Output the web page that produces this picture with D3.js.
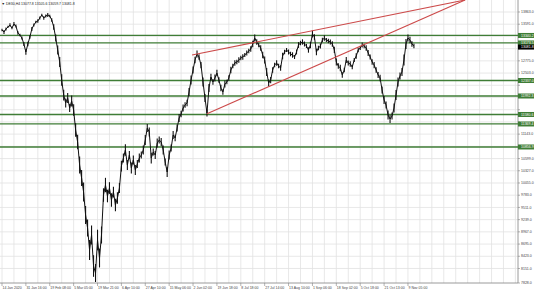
<!DOCTYPE html>
<html>
<head>
<meta charset="utf-8">
<script src="https://d3js.org/d3.v7.min.js"></script>
<style>
  html, body { margin: 0; padding: 0; background: #fff; }
  svg { display: block; }
  text { font-family: "Liberation Sans", Arial, sans-serif; }
</style>
</head>
<body>
<script>
// chart values (DE30, H4)
const closes = [
  13462, 13417, 13484, 13529, 13573, 13506, 13596, 13551, 13395, 13351,
  13284, 13150, 12972, 13150, 13306, 13484, 13573, 13640, 13662, 13729,
  13796, 13729, 13774, 13796, 13774, 13685, 13529, 13284, 13017, 12749,
  12348, 12014, 11836, 11948, 11725, 11881, 11680, 11235, 10968, 10455,
  10166, 9854, 9342, 9052, 8563, 8897, 8206, 8050, 8785, 8384,
  8897, 9787, 10010, 9765, 9943, 9676, 9854, 9565, 9720, 9943,
  10433, 10611, 10790, 10455, 10678, 10389, 10567, 10344, 10478, 10611,
  10678, 10790, 11012, 11279, 11190, 10611, 10745, 10678, 10945, 11012,
  10968, 10790, 10522, 10300, 10678, 10834, 11124, 11057, 11279, 11502,
  11591, 11725, 11792, 11836, 12081, 12348, 12571, 12794, 12927, 12861,
  12682, 12304, 11948, 11613, 12170, 12415, 12304, 12393, 12504, 12348,
  12170, 12081, 12259, 12304, 12393, 12571, 12660, 12727, 12749, 12794,
  12838, 12861, 12905, 12950, 12994, 13039, 13150, 13284, 13195, 13128,
  13061, 12905, 12794, 12527, 12282, 12348, 12571, 12682, 12727, 12660,
  12616, 12883, 12972, 13017, 12972, 12927, 12905, 12861, 12972, 13128,
  13172, 13195, 13150, 13106, 13017, 13128, 13373, 13306, 12972, 13061,
  13106, 13239, 13284, 13239, 13217, 13195, 13150, 13017, 12749, 12660,
  12616, 12460, 12571, 12794, 12727, 12705, 12638, 12794, 12883, 13017,
  13061, 13128, 13106, 13061, 12950, 12861, 12749, 12682, 12571, 12460,
  12393, 12126, 11903, 11792, 11569, 11480, 11547, 11725, 12014, 12304,
  12438, 12527, 12794, 13150, 13284, 13239, 13150, 13106
];

// high-low span of each bar, in points
const spans = [
  60, 90, 70, 50, 80, 60, 90, 70, 80, 60,
  70, 90, 120, 100, 80, 90, 70, 60, 80, 70,
  60, 80, 70, 90, 60, 80, 120, 160, 200, 220,
  260, 240, 200, 220, 180, 240, 260, 300, 320, 380,
  360, 420, 400, 380, 450, 420, 480, 400, 460, 420,
  380, 300, 320, 280, 260, 300, 240, 280, 260, 220,
  240, 200, 260, 220, 180, 240, 200, 220, 180, 200,
  160, 200, 220, 180, 200, 240, 160, 180, 200, 160,
  180, 200, 160, 220, 200, 160, 180, 140, 160, 180,
  140, 160, 120, 140, 180, 200, 160, 140, 160, 120,
  140, 200, 180, 160, 180, 140, 120, 160, 140, 120,
  140, 120, 160, 100, 120, 140, 100, 120, 100, 120,
  100, 120, 90, 110, 100, 120, 140, 160, 120, 100,
  120, 140, 160, 180, 160, 140, 120, 100, 120, 100,
  120, 140, 100, 90, 110, 100, 120, 90, 110, 130,
  100, 120, 110, 90, 120, 140, 160, 120, 140, 100,
  110, 100, 120, 90, 100, 110, 120, 140, 160, 120,
  140, 120, 100, 130, 110, 120, 100, 90, 120, 100,
  90, 110, 100, 120, 130, 110, 120, 140, 120, 130,
  140, 160, 180, 160, 200, 180, 160, 200, 220, 200,
  160, 180, 240, 220, 160, 140, 120, 100
];

const timeLabels = [
  '14 Jan 2020', '31 Jan 16:00', '19 Feb 08:00', '5 Mar 05:00', '19 Mar 21:00',
  '6 Apr 10:00', '27 Apr 10:00', '15 May 06:00', '2 Jun 02:00', '19 Jun 18:00',
  '8 Jul 18:00', '27 Jul 14:00', '13 Aug 10:00', '1 Sep 06:00', '18 Sep 02:00',
  '5 Oct 18:00', '21 Oct 13:00', '9 Nov 05:00'
];
const labelEvery = 12;   // bars between time labels

const priceTicks = [
  13863.0, 13591.0, 13319.0, 13047.0, 12775.0, 12503.0, 12231.0, 11959.0,
  11687.0, 11415.0, 11143.0, 10871.0, 10599.0, 10327.0, 10055.0, 9783.0,
  9511.0, 9239.0, 8967.0, 8695.0, 8423.0, 8151.0, 7828.0
];

const levels = [13340.2, 13173.5, 12337.0, 11992.3, 11580.6, 11369.4, 10856.9];
const lastPrice = 13081.8;
const header = ['DE30,H4', '13077.8', '13105.6', '13059.7', '13081.8'];

// wedge trendlines: [bar, price] pairs
const trendUpper = [[95.5, 12905], [232.7, 14130]];
const trendLower = [[103, 11595], [232.7, 14130]];

// sizes
const W = 536, H = 293;
const plotRight = 518, plotBottom = 283;

const svg = d3.select('body')
  .append('svg')
  .attr('width', W)
  .attr('height', H);

const x = d3.scaleLinear()
  .domain([0, 100])
  .range([2, 201]);

const y = d3.scaleLinear()
  .domain([7828, 14130])
  .range([plotBottom, 0]);

const maxBar = Math.floor(x.invert(plotRight));

// grid
const grid = svg.append('g');
grid.selectAll('line.v')
  .data(d3.range(0, maxBar + 1, 6))
  .join('line')
  .attr('class', 'v')
  .attr('x1', d => x(d)).attr('x2', d => x(d))
  .attr('y1', 0).attr('y2', plotBottom)
  .attr('stroke', '#e2e2e2')
  .attr('stroke-width', 0.8);

grid.selectAll('line.h')
  .data(priceTicks.slice(0, -1))
  .join('line')
  .attr('class', 'h')
  .attr('x1', 0).attr('x2', plotRight)
  .attr('y1', d => y(d)).attr('y2', d => y(d))
  .attr('stroke', '#e2e2e2')
  .attr('stroke-width', 0.8);

// border
svg.append('path')
  .attr('d', `M${plotRight},0V${plotBottom}H0`)
  .attr('fill', 'none')
  .attr('stroke', '#808080')
  .attr('stroke-width', 0.8);

// support / resistance levels
svg.selectAll('line.level')
  .data(levels)
  .join('line')
  .attr('class', 'level')
  .attr('x1', 0).attr('x2', plotRight)
  .attr('y1', d => y(d)).attr('y2', d => y(d))
  .attr('stroke', '#3f7d36')
  .attr('stroke-width', 1.3);

// price series: bars + close line
svg.selectAll('line.bar')
  .data(closes)
  .join('line')
  .attr('class', 'bar')
  .attr('x1', (d, i) => x(i)).attr('x2', (d, i) => x(i))
  .attr('y1', (d, i) => y(d + spans[i] / 2))
  .attr('y2', (d, i) => y(d - spans[i] / 2))
  .attr('stroke', '#111')
  .attr('stroke-width', 1.1);

const line = d3.line()
  .x((d, i) => x(i))
  .y(d => y(d));

svg.append('path')
  .datum(closes)
  .attr('d', line)
  .attr('fill', 'none')
  .attr('stroke', '#111')
  .attr('stroke-width', 1);

// trendlines
const tline = d3.line().x(d => x(d[0])).y(d => y(d[1]));
svg.selectAll('path.trend')
  .data([trendUpper, trendLower])
  .join('path')
  .attr('class', 'trend')
  .attr('d', tline)
  .attr('fill', 'none')
  .attr('stroke', '#cc4a4a')
  .attr('stroke-width', 1.1);

// price tags for levels and last price
const tags = levels.map(v => ({ v, fill: '#3f7d36' }))
  .concat([{ v: lastPrice, fill: '#000' }]);

// right axis labels (those under a tag are covered, as on the terminal)
const fs = 3.5;
const visibleTicks = priceTicks.filter(t =>
  !tags.some(g => Math.abs(y(g.v) - y(t)) < 5));

svg.selectAll('line.ytick')
  .data(priceTicks)
  .join('line')
  .attr('class', 'ytick')
  .attr('x1', plotRight).attr('x2', plotRight + 2)
  .attr('y1', d => y(d)).attr('y2', d => y(d))
  .attr('stroke', '#808080')
  .attr('stroke-width', 0.6);

svg.selectAll('text.ylab')
  .data(visibleTicks)
  .join('text')
  .attr('class', 'ylab')
  .attr('x', plotRight + 3)
  .attr('y', d => y(d) + 1.2)
  .attr('font-size', fs)
  .attr('fill', '#444')
  .text(d => d3.format('.1f')(d));

const tag = svg.selectAll('g.tag')
  .data(tags)
  .join('g')
  .attr('class', 'tag')
  .attr('transform', d => `translate(${plotRight}, ${y(d.v)})`);

tag.append('rect')
  .attr('x', 0).attr('y', -2.5)
  .attr('width', 16).attr('height', 5)
  .attr('fill', d => d.fill);

tag.append('text')
  .attr('x', 3).attr('y', 1.2)
  .attr('font-size', fs)
  .attr('fill', '#fff')
  .text(d => d3.format('.1f')(d.v));

// bottom time labels
const tb = svg.selectAll('g.xlab')
  .data(timeLabels)
  .join('g')
  .attr('class', 'xlab')
  .attr('transform', (d, i) => `translate(${x(i * labelEvery)}, ${plotBottom})`);

tb.append('line')
  .attr('y1', 0).attr('y2', 3)
  .attr('stroke', '#808080')
  .attr('stroke-width', 0.6);

tb.append('text')
  .attr('x', 0.5).attr('y', 5.5)
  .attr('font-size', fs)
  .attr('fill', '#444')
  .text(d => d);

// header
svg.append('text')
  .attr('x', 1.5).attr('y', 5)
  .attr('font-size', fs)
  .attr('fill', '#222')
  .text('\u25BC ' + header.join(' '));
</script>
</body>
</html>
